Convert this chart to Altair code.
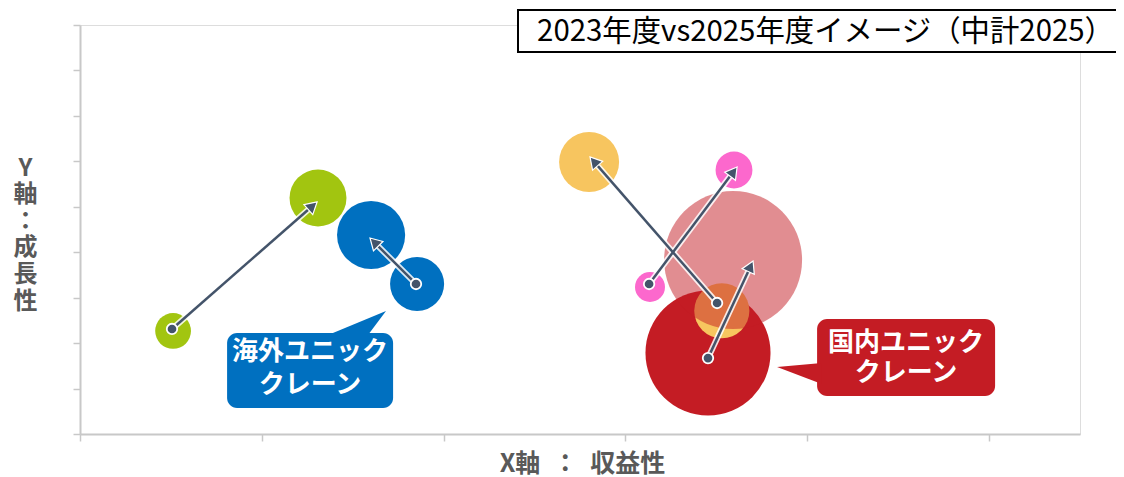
import math
import altair as alt
import pandas as pd

# ---- scale set-up ----
X_MAX, Y_MAX = 5.5, 9
W, H = 1000, 409
SX, SY = W / X_MAX, H / Y_MAX
JP = "Noto Sans CJK JP"

# ---- data ----
segments = ["海外A", "海外B", "国内A", "国内B", "国内C"]
seg_colors = ["#a2c510", "#0070c0", "#f7c55f", "#fc68cd", "#c41c24"]

# bubbles (drawing order)
b_seg = ["国内C", "国内A", "海外A", "海外A", "海外B", "海外B", "国内A", "国内B", "国内B", "国内C"]
b_year = [2023, 2023, 2023, 2025, 2023, 2025, 2025, 2023, 2025, 2025]
b_x = [3.454, 3.530, 0.512, 1.309, 1.854, 1.601, 2.800, 3.135, 3.597, 3.592]
b_y = [1.783, 2.713, 2.267, 5.194, 3.301, 4.379, 5.986, 3.235, 5.810, 3.829]
b_val = [39.1, 7.6, 3.2, 8.1, 7.3, 11.6, 9.0, 2.25, 3.4, 47.6]

# arrows 2023 -> 2025
a_seg = ["海外A", "海外B", "国内A", "国内B", "国内C"]
a_x0 = [0.506, 1.848, 3.504, 3.130, 3.454]
a_y0 = [2.311, 3.301, 2.883, 3.301, 1.670]
a_x1 = [1.304, 1.595, 2.805, 3.614, 3.702]
a_y1 = [5.106, 4.313, 6.096, 5.876, 3.807]

# callouts
c_color = ["#0070c0", "#c41c24"]
c_x0 = [0.809, 4.054]
c_x1 = [1.722, 5.033]
c_y0 = [0.572, 0.836]
c_y1 = [2.223, 2.531]
line1 = ["海外ユニック", "国内ユニック"]
line2 = ["クレーン", "クレーン"]
c_tx = [1.265, 4.543]
c_ty1 = [1.810, 1.997]
c_ty2 = [1.083, 1.338]

# callout tails
blue_tail_y = [2.15, 2.707]
blue_tail_x = [1.348, 1.683]
blue_tail_x2 = [1.579, 1.683]
red_tail_x = [3.834, 4.08]
red_tail_y = [1.474, 1.56]
red_tail_y2 = [1.474, 1.10]

title_text = "2023年度vs2025年度イメージ（中計2025）"
title_box = dict(x0=2.409, x1=5.9, y0=8.407, y1=9.331)
title_pos = dict(x=2.514, y=8.846)

x_title = "X軸\u2002：\u2002収益性"
y_title = ["Y", "軸", "：", "成", "長", "性"]

# ---- tables ----
bub = pd.DataFrame({"seg": b_seg, "year": b_year, "x": b_x, "y": b_y, "val": b_val})
bub["order"] = range(len(bub))

HEAD = 180
h = math.sqrt(3) / 2 * math.sqrt(HEAD) / 2
rows = []
for s, x0, y0, x1, y1 in zip(a_seg, a_x0, a_y0, a_x1, a_y1):
    dx = (x1 - x0) * SX
    dy = -(y1 - y0) * SY
    L = math.hypot(dx, dy)
    ux, uy = dx / L, dy / L
    ang = math.degrees(math.atan2(ux, -uy)) % 360
    hx = x1 - h * ux / SX
    hy = y1 + h * uy / SY
    rows.append(dict(seg=s, x0=x0, y0=y0, x1=x1, y1=y1, hx=hx, hy=hy, ang=ang))
arr = pd.DataFrame(rows)

call = pd.DataFrame({"color": c_color, "x0": c_x0, "x1": c_x1,
                     "y0": c_y0, "y1": c_y1, "tx": c_tx, "ty1": c_ty1, "ty2": c_ty2,
                     "l1": line1, "l2": line2})

xs = alt.Scale(domain=[0, X_MAX], nice=False, zero=False)
ys = alt.Scale(domain=[0, Y_MAX], nice=False, zero=False)

axis_common = dict(labels=False, grid=False, domainColor="#c8c8c8", domainWidth=2,
                   tickColor="#c8c8c8", tickWidth=1.5, tickSize=7,
                   titleFont=JP, titleFontWeight="bold", titleColor="#595959")

X = lambda f: alt.X(f, type="quantitative", scale=xs,
                    axis=alt.Axis(values=[0, 1, 2, 3, 4, 5], title=x_title,
                                  titleX=502, titleY=29, titleBaseline="middle",
                                  titleAlign="center", titleFontSize=25, **axis_common))
Y = lambda f: alt.Y(f, type="quantitative", scale=ys,
                    axis=alt.Axis(values=list(range(10)), title=y_title,
                                  titleAngle=0, titleX=-55, titleY=143,
                                  titleBaseline="middle", titleAlign="center",
                                  titleFontSize=24, titleLineHeight=26.6, **axis_common))

bubbles = alt.Chart(bub).mark_circle(opacity=1).encode(
    x=X("x"), y=Y("y"),
    size=alt.Size("val:Q", scale=alt.Scale(domain=[0, 50], range=[0, 20000], zero=True), legend=None),
    color=alt.Color("seg:N", scale=alt.Scale(domain=segments, range=seg_colors), legend=None),
    opacity=alt.condition("datum.seg == '国内C' && datum.year == 2025", alt.value(0.5), alt.value(1)),
    order=alt.Order("order:Q"),
)

base_arr = alt.Chart(arr)
glow = base_arr.mark_rule(color="white", strokeWidth=6, opacity=0.85, strokeCap="round").encode(
    x=alt.X("x0:Q", scale=xs), y=alt.Y("y0:Q", scale=ys), x2="hx:Q", y2="hy:Q")
line = base_arr.mark_rule(color="#44546a", strokeWidth=2.5).encode(
    x=alt.X("x0:Q", scale=xs), y=alt.Y("y0:Q", scale=ys), x2="hx:Q", y2="hy:Q")
heads = base_arr.mark_point(shape="triangle-up", filled=True, size=HEAD, color="#44546a",
                            stroke="white", strokeWidth=1.2, opacity=1).encode(
    x=alt.X("hx:Q", scale=xs), y=alt.Y("hy:Q", scale=ys),
    angle=alt.Angle("ang:Q", scale=None))
dots = base_arr.mark_point(shape="circle", filled=True, size=110, color="#44546a",
                           stroke="white", strokeWidth=1.8, opacity=1).encode(
    x=alt.X("x0:Q", scale=xs), y=alt.Y("y0:Q", scale=ys))

boxes = alt.Chart(call).mark_rect(cornerRadius=10).encode(
    x=alt.X("x0:Q", scale=xs), x2="x1:Q", y=alt.Y("y0:Q", scale=ys), y2="y1:Q",
    color=alt.Color("color:N", scale=None))
btail = alt.Chart(pd.DataFrame({"y": blue_tail_y, "x": blue_tail_x, "x2": blue_tail_x2})).mark_area(
    orient="horizontal", color=c_color[0]).encode(
    y=alt.Y("y:Q", scale=ys), x=alt.X("x:Q", scale=xs), x2="x2:Q")
rtail = alt.Chart(pd.DataFrame({"x": red_tail_x, "y": red_tail_y, "y2": red_tail_y2})).mark_area(
    orient="vertical", color=c_color[1]).encode(
    x=alt.X("x:Q", scale=xs), y=alt.Y("y:Q", scale=ys), y2="y2:Q")
t1 = alt.Chart(call).mark_text(font=JP, fontWeight="bold", fontSize=26, color="white",
                               align="center", baseline="middle").encode(
    x=alt.X("tx:Q", scale=xs), y=alt.Y("ty1:Q", scale=ys), text="l1:N")
t2 = alt.Chart(call).mark_text(font=JP, fontWeight="bold", fontSize=26, color="white",
                               align="center", baseline="middle").encode(
    x=alt.X("tx:Q", scale=xs), y=alt.Y("ty2:Q", scale=ys), text="l2:N")

tb = pd.DataFrame([title_box])
tbox = alt.Chart(tb).mark_rect(fill="white", stroke="black", strokeWidth=2).encode(
    x=alt.X("x0:Q", scale=xs), x2="x1:Q", y=alt.Y("y0:Q", scale=ys), y2="y1:Q")
ttxt = alt.Chart(pd.DataFrame([{**title_pos, "t": title_text}])).mark_text(
    font=JP, fontSize=29.4, color="black", align="left", baseline="middle").encode(
    x=alt.X("x:Q", scale=xs), y=alt.Y("y:Q", scale=ys), text="t:N")

chart = alt.layer(bubbles, glow, line, heads, dots, boxes, btail, rtail, t1, t2, tbox, ttxt).properties(
    width=W, height=H,
    autosize=alt.AutoSizeParams(type="none"),
    padding={"left": 72, "top": 17, "right": 36, "bottom": 43},
).configure_view(stroke=None).configure(background="white")

chart.save("out.html", embed_options={"renderer": "svg", "actions": False})
